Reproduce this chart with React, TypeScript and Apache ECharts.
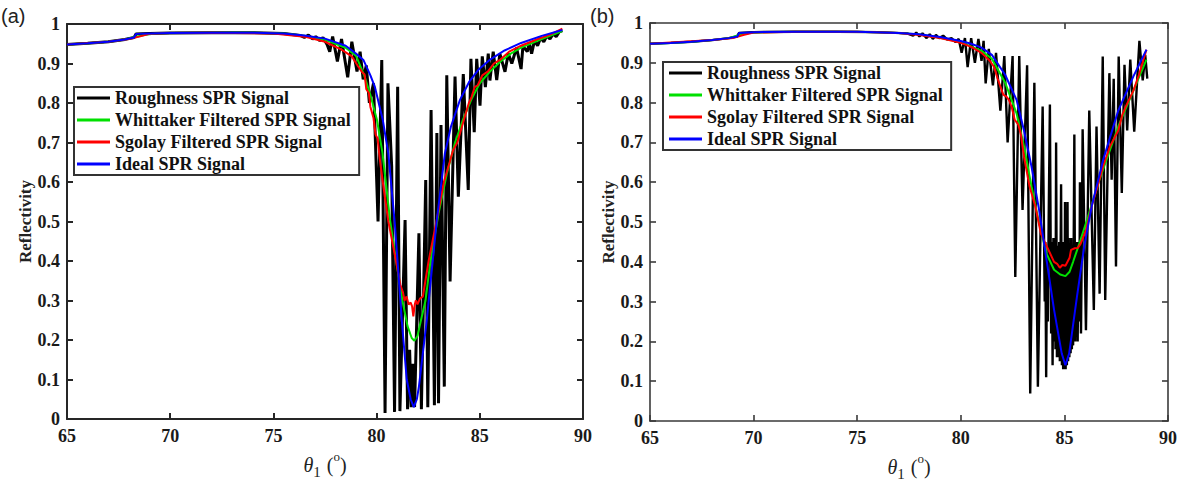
import React, { useEffect, useRef } from "react";
import * as echarts from "echarts";

// ---------- data (theta in degrees, reflectivity) ----------
const seriesNames = [
  "Roughness SPR Signal",
  "Whittaker Filtered SPR Signal",
  "Sgolay Filtered SPR Signal",
  "Ideal SPR Signal",
];
const seriesColors = ["#000000", "#00e000", "#ff0000", "#0000ff"];

const xRange = [65, 90];
const yRange = [0, 1];

// Panel (a)
const roughA: number[][] = [
  [65, 0.948], [66, 0.951], [67, 0.955], [67.8, 0.961], [68.25, 0.966], [68.35, 0.975], [69, 0.976], [70, 0.977],
  [72, 0.978], [74, 0.978], [75.5, 0.976], [76.3, 0.971], [76.5, 0.966], [76.7, 0.972], [76.9, 0.962], [77.05, 0.968],
  [77.25, 0.958], [77.4, 0.966], [77.6, 0.948], [77.73, 0.93], [77.87, 0.968], [78.1, 0.905], [78.3, 0.962],
  [78.6, 0.865], [78.8, 0.955], [79.05, 0.88], [79.2, 0.93], [79.35, 0.86], [79.5, 0.895], [79.65, 0.8],
  [79.85, 0.85], [80.07, 0.5], [80.25, 0.909], [80.41, 0.015], [80.55, 0.85], [80.73, 0.64], [80.87, 0.018],
  [81.02, 0.841], [81.13, 0.02], [81.38, 0.504], [81.5, 0.025], [81.6, 0.175], [81.68, 0.03], [81.76, 0.14],
  [81.84, 0.03], [82.05, 0.47], [82.17, 0.025], [82.38, 0.605], [82.48, 0.03], [82.64, 0.782], [82.8, 0.035],
  [82.92, 0.724], [83.0, 0.04], [83.12, 0.744], [83.28, 0.082], [83.4, 0.87], [83.56, 0.348], [83.8, 0.867],
  [83.96, 0.563], [84.2, 0.873], [84.44, 0.58], [84.57, 0.912], [84.73, 0.726], [84.85, 0.912], [85.01, 0.793],
  [85.12, 0.918], [85.27, 0.84], [85.41, 0.925], [85.49, 0.857], [85.65, 0.93], [85.82, 0.858], [85.97, 0.925],
  [86.22, 0.879], [86.38, 0.925], [86.55, 0.9], [86.78, 0.94], [87.0, 0.886], [87.09, 0.944], [87.3, 0.93],
  [87.4, 0.952], [87.51, 0.925], [87.65, 0.958], [87.8, 0.945], [87.95, 0.965], [88.1, 0.955], [88.25, 0.97],
  [88.4, 0.962], [88.55, 0.975], [88.7, 0.968], [88.85, 0.98], [89.0, 0.983],
];
const whitA: number[][] = [
  [65, 0.948], [66, 0.951], [67, 0.955], [67.8, 0.961], [68.3, 0.967], [68.8, 0.973], [69.3, 0.976], [70, 0.977],
  [72, 0.978], [74, 0.978], [75.5, 0.976], [76.5, 0.97], [77.5, 0.96], [78.5, 0.94], [79.0, 0.92], [79.4, 0.87],
  [79.7, 0.82], [80.02, 0.757], [80.29, 0.672], [80.65, 0.504], [80.89, 0.42], [81.25, 0.3], [81.5, 0.235],
  [81.7, 0.205], [81.83, 0.198], [81.98, 0.21], [82.15, 0.25], [82.37, 0.3], [82.61, 0.4], [83.0, 0.52],
  [83.4, 0.62], [83.8, 0.7], [84.2, 0.76], [84.6, 0.81], [85.0, 0.85], [85.5, 0.88], [86.0, 0.905],
  [86.5, 0.925], [87.0, 0.94], [88.0, 0.962], [89.0, 0.982],
];
const sgolA: number[][] = [
  [65, 0.948], [67, 0.955], [68, 0.962], [68.5, 0.968], [69, 0.975], [70, 0.977], [72, 0.978], [75, 0.976],
  [76.5, 0.968], [77.5, 0.955], [78.3, 0.935], [78.8, 0.918], [79.1, 0.893], [79.3, 0.878], [79.42, 0.872],
  [79.5, 0.835], [79.62, 0.826], [79.7, 0.79], [79.85, 0.762], [79.95, 0.72], [80.05, 0.71], [80.15, 0.66],
  [80.3, 0.6], [80.57, 0.5], [80.94, 0.4], [81.15, 0.34], [81.28, 0.32], [81.35, 0.3], [81.45, 0.31],
  [81.55, 0.29], [81.65, 0.295], [81.72, 0.285], [81.78, 0.26], [81.85, 0.29], [81.9, 0.3], [81.98, 0.29],
  [82.1, 0.305], [82.24, 0.31], [82.52, 0.4], [82.9, 0.5], [83.26, 0.6], [83.54, 0.65], [83.7, 0.68],
  [83.91, 0.7], [84.19, 0.75], [84.47, 0.8], [84.6, 0.815], [84.75, 0.84], [84.9, 0.845], [85.12, 0.87],
  [85.4, 0.88], [85.68, 0.9], [86.0, 0.91], [86.42, 0.93], [87, 0.945], [87.72, 0.96], [88.4, 0.973], [89.0, 0.988],
];
const idealA: number[][] = [
  [65, 0.948], [66, 0.951], [67, 0.955], [67.8, 0.961], [68.25, 0.966], [68.35, 0.975], [69, 0.976], [70, 0.977],
  [72, 0.978], [74, 0.978], [75.5, 0.976], [76.5, 0.971], [77.5, 0.963], [78.5, 0.945], [79.0, 0.925],
  [79.36, 0.909], [79.7, 0.87], [79.92, 0.84], [80.3, 0.757], [80.57, 0.672], [80.89, 0.49], [81.22, 0.25],
  [81.46, 0.1], [81.65, 0.05], [81.8, 0.03], [81.95, 0.05], [82.05, 0.082], [82.43, 0.25], [82.91, 0.5],
  [83.31, 0.673], [83.6, 0.74], [84.04, 0.808], [84.5, 0.855], [84.93, 0.884], [85.5, 0.91], [86.2, 0.933],
  [87.0, 0.952], [88.0, 0.97], [89.0, 0.985],
];

// Panel (b)
const roughB: number[][] = [
  [65, 0.948], [66, 0.95], [67, 0.953], [68, 0.957], [68.8, 0.962], [69.2, 0.966], [69.3, 0.975], [70, 0.977],
  [72, 0.978], [74, 0.978], [76, 0.977], [77.4, 0.974], [77.7, 0.968], [77.85, 0.976], [78.0, 0.966],
  [78.15, 0.974], [78.35, 0.962], [78.5, 0.972], [78.65, 0.96], [78.8, 0.97], [78.95, 0.962], [79.15, 0.968],
  [79.35, 0.958], [79.55, 0.962], [79.75, 0.952], [79.9, 0.96], [80.04, 0.925], [80.2, 0.962], [80.33, 0.889],
  [80.5, 0.962], [80.68, 0.9], [80.85, 0.96], [81.0, 0.905], [81.1, 0.955], [81.2, 0.848], [81.35, 0.935],
  [81.55, 0.843], [81.7, 0.925], [81.91, 0.78], [82.1, 0.917], [82.26, 0.7], [82.5, 0.917], [82.63, 0.362],
  [82.82, 0.917], [82.98, 0.53], [83.2, 0.894], [83.35, 0.069], [83.55, 0.85], [83.72, 0.086], [83.95, 0.79],
  [84.05, 0.3], [84.08, 0.45], [84.12, 0.11], [84.16, 0.42], [84.2, 0.25], [84.24, 0.5], [84.3, 0.795],
  [84.36, 0.22], [84.4, 0.45], [84.43, 0.14], [84.47, 0.46], [84.5, 0.2], [84.54, 0.45], [84.57, 0.18],
  [84.6, 0.7], [84.64, 0.16], [84.68, 0.44], [84.71, 0.16], [84.75, 0.45], [84.78, 0.15], [84.84, 0.595],
  [84.88, 0.14], [84.91, 0.45], [84.94, 0.13], [84.97, 0.45], [85.0, 0.13], [85.03, 0.55], [85.06, 0.13],
  [85.09, 0.45], [85.12, 0.14], [85.15, 0.55], [85.18, 0.15], [85.21, 0.46], [85.24, 0.16], [85.27, 0.44],
  [85.3, 0.17], [85.33, 0.46], [85.36, 0.18], [85.39, 0.42], [85.42, 0.19], [85.48, 0.72], [85.52, 0.2],
  [85.55, 0.44], [85.58, 0.22], [85.61, 0.45], [85.64, 0.2], [85.68, 0.45], [85.72, 0.25], [85.75, 0.6],
  [85.8, 0.22], [85.84, 0.45], [85.88, 0.733], [86.04, 0.228], [86.2, 0.78], [86.42, 0.279], [86.55, 0.74],
  [86.7, 0.32], [86.85, 0.916], [86.97, 0.304], [87.17, 0.874], [87.28, 0.606], [87.38, 0.86], [87.49, 0.388],
  [87.62, 0.916], [87.77, 0.573], [87.9, 0.895], [88.03, 0.73], [88.18, 0.908], [88.37, 0.727], [88.62, 0.955],
  [88.78, 0.856], [88.9, 0.92], [89.0, 0.86],
];
const whitB: number[][] = [
  [65, 0.948], [66, 0.95], [67, 0.953], [68, 0.957], [68.8, 0.962], [69.3, 0.97], [69.8, 0.975], [70.5, 0.977],
  [72, 0.978], [75, 0.978], [77, 0.975], [78, 0.971], [79, 0.963], [80, 0.952], [81, 0.93], [81.5, 0.91],
  [82.14, 0.85], [82.69, 0.773], [83.05, 0.69], [83.41, 0.59], [83.78, 0.497], [84.14, 0.42], [84.5, 0.38],
  [84.8, 0.368], [85.05, 0.364], [85.25, 0.375], [85.42, 0.4], [85.78, 0.455], [86.14, 0.513], [86.69, 0.606],
  [87.6, 0.74], [88.33, 0.83], [88.96, 0.908],
];
const sgolB: number[][] = [
  [65, 0.948], [68, 0.957], [69, 0.962], [69.5, 0.97], [70, 0.976], [72, 0.978], [75, 0.978], [77, 0.975],
  [78, 0.97], [79, 0.962], [80, 0.95], [80.5, 0.94], [81, 0.925], [81.4, 0.905], [81.6, 0.89], [81.78, 0.86],
  [82.05, 0.82], [82.2, 0.815], [82.32, 0.807], [82.45, 0.79], [82.6, 0.757], [82.78, 0.744], [82.9, 0.72],
  [83.05, 0.664], [83.32, 0.589], [83.6, 0.539], [83.87, 0.47], [84.14, 0.44], [84.5, 0.4], [84.65, 0.395],
  [84.78, 0.385], [84.9, 0.392], [85.05, 0.39], [85.15, 0.4], [85.25, 0.41], [85.32, 0.43], [85.5, 0.434],
  [85.65, 0.435], [85.78, 0.445], [86.05, 0.48], [86.32, 0.54], [86.6, 0.59], [86.87, 0.64], [87.2, 0.69],
  [87.6, 0.73], [87.8, 0.77], [87.96, 0.79], [88.33, 0.83], [88.6, 0.87], [88.96, 0.933],
];
const idealB: number[][] = [
  [65, 0.948], [66, 0.95], [67, 0.953], [68, 0.957], [68.8, 0.962], [69.22, 0.966], [69.3, 0.975], [70, 0.977],
  [72, 0.978], [75, 0.978], [77, 0.975], [78, 0.972], [79, 0.965], [80, 0.955], [80.5, 0.948], [81, 0.938],
  [81.5, 0.92], [82.14, 0.87], [82.69, 0.807], [83.05, 0.73], [83.41, 0.64], [83.78, 0.53], [84.14, 0.404],
  [84.5, 0.28], [84.87, 0.17], [85.05, 0.14], [85.23, 0.17], [85.6, 0.31], [85.96, 0.44], [86.32, 0.54],
  [86.87, 0.656], [87.6, 0.78], [88.33, 0.866], [88.96, 0.933],
];

const panelA = [roughA, whitA, sgolA, idealA];
const panelB = [roughB, whitB, sgolB, idealB];

// ---------- styling ----------
const serif = "'Liberation Serif', 'Times New Roman', serif";

function axesFor(grid: number, frameColor: string, frameWidth: number) {
  const line = { show: true, onZero: false, lineStyle: { color: frameColor, width: frameWidth } };
  const tick = { show: true, inside: true, length: 6, lineStyle: { color: frameColor, width: frameWidth } };
  const label = { fontFamily: serif, fontWeight: "bold" as const, fontSize: 18, color: "#1a1a1a" };
  const xAxes = [
    {
      type: "value", gridIndex: grid, min: xRange[0], max: xRange[1], interval: 5, position: "bottom",
      axisLine: line, axisTick: tick, splitLine: { show: false },
      axisLabel: { ...label, margin: 8 },
      name: "{t|θ}{s|1}{g| }{p|(}{o|o}{p|)}", nameLocation: "middle", nameGap: 30,
      nameTextStyle: {
        rich: {
          t: { fontFamily: serif, fontStyle: "italic", fontSize: 20, color: "#222", lineHeight: 30, verticalAlign: "middle" },
          s: { fontFamily: serif, fontSize: 15, color: "#222", lineHeight: 13, verticalAlign: "bottom" },
          g: { fontFamily: serif, fontSize: 14, lineHeight: 14, width: 6 },
          p: { fontFamily: serif, fontSize: 20, color: "#222", lineHeight: 30, verticalAlign: "middle" },
          o: { fontFamily: serif, fontSize: 13, color: "#222", lineHeight: 12, verticalAlign: "top" },
        },
      },
    },
    {
      type: "value", gridIndex: grid, min: xRange[0], max: xRange[1], interval: 5, position: "top",
      axisLine: line, axisTick: tick, splitLine: { show: false }, axisLabel: { show: false },
    },
  ];
  const yAxes = [
    {
      type: "value", gridIndex: grid, min: yRange[0], max: yRange[1], interval: 0.1, position: "left",
      axisLine: line, axisTick: tick, splitLine: { show: false },
      axisLabel: { ...label, margin: 7 },
      name: "Reflectivity", nameLocation: "middle", nameGap: 33, nameRotate: 90,
      nameTextStyle: { fontFamily: serif, fontWeight: "bold", fontSize: 17, color: "#222" },
    },
    {
      type: "value", gridIndex: grid, min: yRange[0], max: yRange[1], interval: 0.1, position: "right",
      axisLine: line, axisTick: tick, splitLine: { show: false }, axisLabel: { show: false },
    },
  ];
  return { xAxes, yAxes };
}

function legendFor(left: number, top: number, padLeft: number) {
  return {
    left, top, orient: "vertical", icon: "rect", itemWidth: 33, itemHeight: 3, itemGap: 0,
    padding: [0, 8, 0, padLeft], borderColor: "#333", borderWidth: 2, backgroundColor: "#fff",
    selectedMode: false, data: seriesNames,
    textStyle: { fontFamily: serif, fontWeight: "bold", fontSize: 18, color: "#111", lineHeight: 22 },
  };
}

export default function App() {
  const ref = useRef<HTMLDivElement>(null);
  useEffect(() => {
    if (!ref.current) return;
    const chart = echarts.init(ref.current, undefined, { renderer: "svg" });
    const a = axesFor(0, "#262626", 2);
    const b = axesFor(1, "#3a3a3a", 1.6);
    const series: any[] = [];
    [panelA, panelB].forEach((panel, gi) => {
      panel.forEach((data, si) => {
        series.push({
          type: "line", name: seriesNames[si], xAxisIndex: gi * 2, yAxisIndex: gi * 2,
          data, showSymbol: false, symbol: "none", clip: true,
          lineStyle: { color: seriesColors[si], width: si === 0 ? (gi === 0 ? 3 : 2.4) : 2 },
          itemStyle: { color: seriesColors[si] },
          z: 2 + si,
        });
      });
    });
    chart.setOption({
      animation: false,
      backgroundColor: "#fff",
      grid: [
        { left: 67, top: 24, width: 516, height: 395, containLabel: false, outerBoundsMode: "none" },
        { left: 650, top: 23, width: 518, height: 398, containLabel: false, outerBoundsMode: "none" },
      ],
      xAxis: [...a.xAxes, ...b.xAxes],
      yAxis: [...a.yAxes, ...b.yAxes],
      legend: [legendFor(74, 87, 3), legendFor(663, 62, 6)],
      graphic: [
        { type: "text", left: 1, top: 6, style: { text: "(a)", font: "20px 'Liberation Sans', Arial, sans-serif", fill: "#222" } },
        { type: "text", left: 590, top: 6, style: { text: "(b)", font: "20px 'Liberation Sans', Arial, sans-serif", fill: "#222" } },
      ],
      series,
    });
    return () => chart.dispose();
  }, []);
  return (
    <div
      ref={ref}
      style={{ position: "fixed", left: 0, top: 0, width: 1180, height: 482, background: "#fff" }}
    />
  );
}
